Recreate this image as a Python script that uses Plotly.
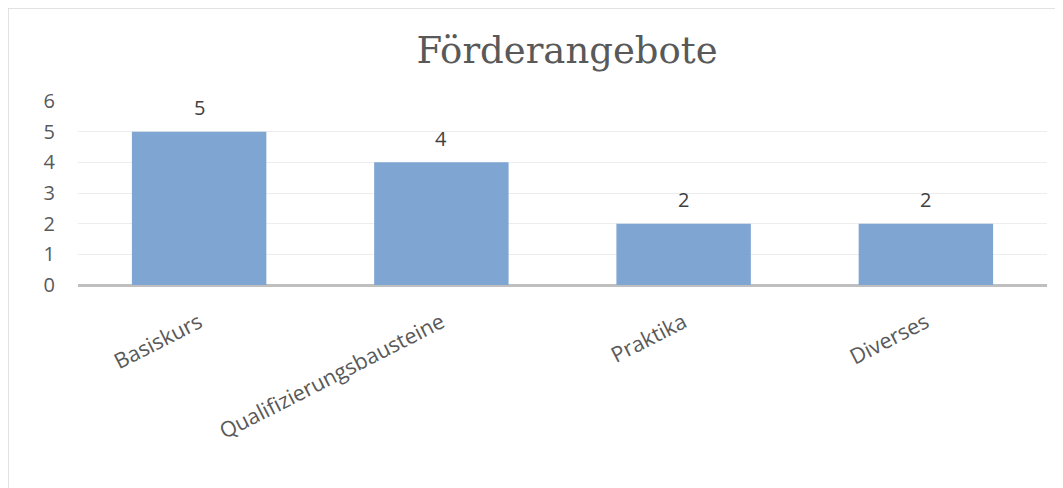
import plotly.graph_objects as go

categories = ["Basiskurs", "Qualifizierungsbausteine", "Praktika", "Diverses"]
values = [5, 4, 2, 2]
y_ticks = [0, 1, 2, 3, 4, 5, 6]

OFF = 8  # page body margin
W, H = 1063 - OFF, 488 - OFF
# plot area in page pixels: x 78..1047, y 101..285
L, T = 78 - OFF, 101 - OFF
R = W - (1047 - OFF)
B = H - (285 - OFF)
pw, ph = W - L - R, H - T - B

def px_x(x):
    return (x - OFF - L) / pw

def px_y(y):
    return (H - B - (y - OFF)) / ph

FONT = "Open Sans, Lato, sans-serif"

fig = go.Figure()
fig.add_trace(go.Bar(
    x=categories, y=values,
    marker=dict(color="#7FA6D3", line=dict(width=0)),
    width=0.555,
))

for c, v in zip(categories, values):
    fig.add_annotation(x=c, y=v, text=str(v), showarrow=False,
                       yanchor="middle", yshift=24,
                       font=dict(family=FONT, size=20, color="#404040"))

fig.update_layout(
    width=W, height=H,
    margin=dict(l=L, r=R, t=T, b=B),
    paper_bgcolor="white", plot_bgcolor="white",
    showlegend=False,
    title=dict(text="Förderangebote", xref="container", x=(567 - OFF) / W,
               xanchor="center",
               y=1 - (50 - OFF) / H, yanchor="middle",
               font=dict(family="DejaVu Serif, serif", size=37, color="#595959")),
    xaxis=dict(
        tickangle=-27,
        tickfont=dict(family=FONT, size=21.5, color="#595959"),
        showgrid=False, showline=False, ticks="",
        range=[-0.5, 3.5], ticklabelstandoff=20,
    ),
    yaxis=dict(
        range=[0, 6], tickvals=y_ticks,
        tickfont=dict(family=FONT, size=20, color="#595959"),
        showgrid=True, gridcolor="#EDEDED", gridwidth=1,
        zeroline=True, zerolinecolor="#BFBFBF", zerolinewidth=3,
        showline=False, ticks="", ticklabelstandoff=22,
    ),
    shapes=[
        dict(type="line", xref="paper", yref="paper",
             x0=px_x(8), x1=px_x(1070), y0=px_y(8), y1=px_y(8),
             line=dict(color="#D9D9D9", width=1.5)),
        dict(type="line", xref="paper", yref="paper",
             x0=px_x(8), x1=px_x(8), y0=px_y(8), y1=px_y(495),
             line=dict(color="#D9D9D9", width=1.5)),
    ],
)

fig.write_html("out.html")
